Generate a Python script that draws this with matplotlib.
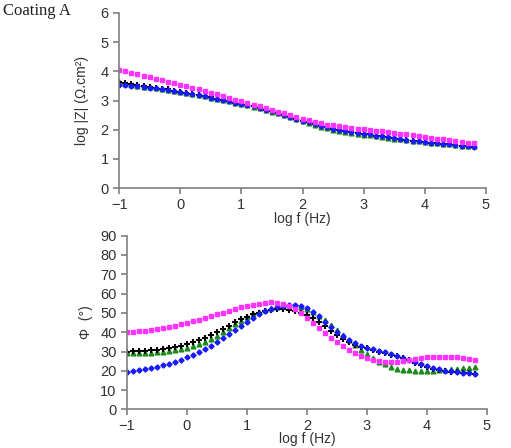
import matplotlib
matplotlib.use("Agg")
import matplotlib.pyplot as plt

# log of frequency, 10 points per decade
log_f = [-1.0, -0.9, -0.8, -0.7, -0.6, -0.5, -0.4, -0.3, -0.2, -0.1,
         0.0, 0.1, 0.2, 0.3, 0.4, 0.5, 0.6, 0.7, 0.8, 0.9,
         1.0, 1.1, 1.2, 1.3, 1.4, 1.5, 1.6, 1.7, 1.8, 1.9,
         2.0, 2.1, 2.2, 2.3, 2.4, 2.5, 2.6, 2.7, 2.8, 2.9,
         3.0, 3.1, 3.2, 3.3, 3.4, 3.5, 3.6, 3.7, 3.8, 3.9,
         4.0, 4.1, 4.2, 4.3, 4.4, 4.5, 4.6, 4.7, 4.8]

# log |Z|
z_magenta = [4.05, 4.00, 3.95, 3.90, 3.85, 3.80, 3.75, 3.70, 3.65, 3.60,
             3.55, 3.49, 3.44, 3.38, 3.33, 3.27, 3.21, 3.15, 3.09, 3.03,
             2.97, 2.92, 2.86, 2.80, 2.74, 2.68, 2.62, 2.56, 2.50, 2.44,
             2.38, 2.33, 2.28, 2.23, 2.18, 2.15, 2.12, 2.09, 2.07, 2.04,
             2.02, 2.00, 1.97, 1.95, 1.92, 1.90, 1.87, 1.84, 1.81, 1.78,
             1.76, 1.73, 1.70, 1.67, 1.65, 1.62, 1.59, 1.56, 1.53]
z_green = [3.62, 3.58, 3.55, 3.51, 3.48, 3.45, 3.42, 3.39, 3.36, 3.33,
           3.30, 3.26, 3.22, 3.18, 3.14, 3.10, 3.06, 3.02, 2.97, 2.93,
           2.89, 2.84, 2.79, 2.74, 2.68, 2.62, 2.56, 2.50, 2.43, 2.36,
           2.29, 2.22, 2.16, 2.10, 2.05, 2.00, 1.96, 1.92, 1.89, 1.86,
           1.83, 1.81, 1.78, 1.75, 1.72, 1.70, 1.67, 1.65, 1.62, 1.60,
           1.58, 1.56, 1.54, 1.52, 1.50, 1.48, 1.46, 1.44, 1.43]
z_black = [3.65, 3.61, 3.57, 3.53, 3.50, 3.47, 3.44, 3.41, 3.38, 3.34,
           3.31, 3.27, 3.23, 3.19, 3.15, 3.11, 3.06, 3.02, 2.98, 2.93,
           2.89, 2.85, 2.80, 2.75, 2.69, 2.63, 2.57, 2.51, 2.45, 2.38,
           2.31, 2.25, 2.19, 2.13, 2.08, 2.04, 2.00, 1.96, 1.93, 1.90,
           1.87, 1.84, 1.80, 1.77, 1.74, 1.71, 1.68, 1.65, 1.63, 1.60,
           1.58, 1.56, 1.54, 1.52, 1.50, 1.48, 1.46, 1.44, 1.42]
z_blue = [3.55, 3.53, 3.51, 3.49, 3.46, 3.44, 3.42, 3.39, 3.36, 3.33,
          3.30, 3.26, 3.22, 3.18, 3.14, 3.10, 3.06, 3.02, 2.97, 2.93,
          2.89, 2.85, 2.80, 2.75, 2.69, 2.63, 2.57, 2.51, 2.45, 2.38,
          2.31, 2.25, 2.19, 2.13, 2.08, 2.04, 2.00, 1.96, 1.93, 1.90,
          1.87, 1.84, 1.80, 1.77, 1.74, 1.71, 1.68, 1.65, 1.63, 1.60,
          1.58, 1.56, 1.54, 1.52, 1.50, 1.48, 1.46, 1.44, 1.42]

# phase angle (deg)
p_magenta = [40.0, 40.3, 40.5, 40.8, 41.0, 41.5, 42.0, 42.5, 43.2, 44.0,
             44.8, 45.6, 46.5, 47.4, 48.3, 49.2, 50.1, 51.0, 52.0, 52.8,
             53.5, 54.2, 54.8, 55.2, 55.5, 55.3, 54.8, 53.8, 52.2, 50.0,
             47.5, 45.0, 42.3, 39.5, 37.0, 34.8, 32.8, 31.0, 29.3, 27.8,
             26.6, 25.7, 25.0, 24.6, 24.5, 24.7, 25.1, 25.6, 26.2, 26.7,
             27.0, 27.2, 27.3, 27.3, 27.2, 27.0, 26.7, 26.3, 25.8]
p_green = [29.0, 29.2, 29.3, 29.3, 29.4, 29.5, 29.8, 30.2, 30.7, 31.3,
           32.0, 32.8, 33.8, 35.0, 36.5, 38.2, 40.0, 42.0, 44.0, 46.0,
           47.8, 49.3, 50.6, 51.7, 52.6, 53.3, 53.8, 54.0, 53.8, 53.2,
           52.0, 50.5, 48.5, 46.3, 43.8, 41.2, 38.5, 35.8, 33.2, 30.8,
           28.6, 26.6, 24.8, 23.3, 22.1, 21.2, 20.6, 20.2, 20.0, 19.9,
           19.9, 20.0, 20.2, 20.4, 20.7, 21.0, 21.3, 21.6, 21.9]
p_black = [30.0, 30.2, 30.3, 30.4, 30.6, 30.9, 31.3, 31.8, 32.4, 33.1,
           33.9, 34.8, 35.8, 37.0, 38.4, 40.0, 41.7, 43.4, 45.1, 46.7,
           48.0, 49.2, 50.2, 51.0, 51.5, 51.8, 51.8, 51.5, 51.0, 50.0,
           48.8, 47.2, 45.2, 43.0, 40.8, 38.6, 36.7, 35.0, 33.6, 32.5,
           31.6, 30.8, 30.0, 29.2, 28.4, 27.5, 26.5, 25.4, 24.2, 23.1,
           22.1, 21.2, 20.5, 20.0, 19.6, 19.3, 19.0, 18.8, 18.6]
p_blue = [19.5, 20.0, 20.5, 21.0, 21.6, 22.2, 23.0, 23.8, 24.7, 25.8,
          27.0, 28.3, 29.7, 31.3, 33.0, 34.8, 36.8, 38.9, 41.1, 43.3,
          45.5, 47.5, 49.3, 50.9, 52.2, 53.2, 53.8, 54.0, 53.9, 53.5,
          52.5, 50.5, 48.2, 45.5, 42.8, 40.2, 37.8, 35.8, 34.2, 33.0,
          32.0, 31.2, 30.4, 29.6, 28.8, 27.9, 26.9, 25.8, 24.6, 23.4,
          22.3, 21.4, 20.7, 20.1, 19.7, 19.3, 19.0, 18.7, 18.4]

plt.rcParams['font.family'] = ['Liberation Sans', 'DejaVu Sans']
grey = '#808080'
txt = '#333333'

fig = plt.figure(figsize=(5.11, 4.48), dpi=100)
ax1 = fig.add_axes([0.233, 0.580, 0.718, 0.391])
ax2 = fig.add_axes([0.2485, 0.086, 0.7045, 0.388])


def style(ax):
    for s in ['top', 'right']:
        ax.spines[s].set_visible(False)
    for s in ['left', 'bottom']:
        ax.spines[s].set_color(grey)
        ax.spines[s].set_linewidth(1.2)
    ax.tick_params(colors=grey, labelcolor=txt, labelsize=10.5, length=4, width=1.2)
    ax.tick_params(axis='x', pad=3)
    ax.set_xlim(-1, 5)
    ax.set_xticks([-1, 0, 1, 2, 3, 4, 5])


def draw(ax, g, k, b, m):
    ax.plot(log_f, g, linestyle='none', marker='^', ms=3.4, color='#1a8a1a', mec='#1a8a1a')
    ax.plot(log_f, k, linestyle='none', marker='+', ms=4, mew=1.5, color='black')
    ax.plot(log_f, b, linestyle='none', marker='D', ms=2.6, color='#1a1aff', mec='#1a1aff')
    ax.plot(log_f, m, linestyle='none', marker='s', ms=3, color='#ff33ff', mec='#ff33ff')


style(ax1)
draw(ax1, z_green, z_black, z_blue, z_magenta)
ax1.set_ylim(0, 6)
ax1.set_yticks(range(0, 7))
ax1.set_ylabel('log |Z| (\u03a9.cm\u00b2)', fontsize=10, color=txt, labelpad=8)
ax1.set_xlabel('log f (Hz)', fontsize=10, color=txt, labelpad=0)

style(ax2)
draw(ax2, p_green, p_black, p_blue, p_magenta)
ax2.set_ylim(0, 90)
ax2.set_yticks(range(0, 91, 10))
ax2.set_ylabel('\u03a6  (\u00b0)', fontsize=10, color=txt, labelpad=5)
ax2.set_xlabel('log f (Hz)', fontsize=10, color=txt, labelpad=-1)

fig.text(0.006, 0.993, 'Coating A', family='Liberation Serif', fontsize=12,
         color='#202020', va='top', ha='left')

fig.savefig('out.png', dpi=100)
